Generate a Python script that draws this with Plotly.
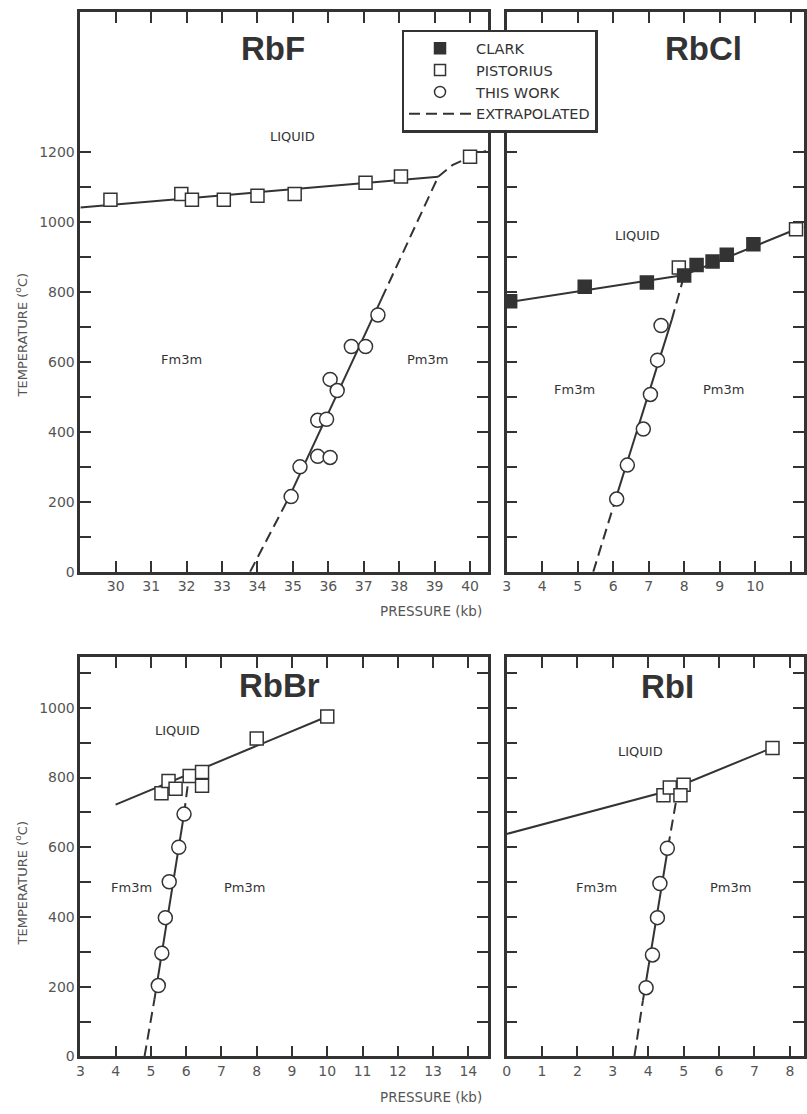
import plotly.graph_objects as go

W, H = 807, 1114
INK = "#333333"
LAB = "#555555"
FONT = "DejaVu Sans"

# ---------------- RbF ----------------
rbf_pist_p = [29.85, 31.85, 32.15, 33.05, 34.0, 35.05, 37.05, 38.05, 40.0]
rbf_pist_t = [1063, 1080, 1063, 1063, 1075, 1080, 1112, 1130, 1186]
rbf_work_p = [34.95, 35.2, 35.7, 36.05, 35.7, 35.95, 36.05, 36.25, 36.65, 37.05, 37.4]
rbf_work_t = [215, 300, 330, 327, 433, 436, 550, 518, 644, 644, 734]
rbf_melt_p = [29.0, 39.1]
rbf_melt_t = [1041, 1129]
rbf_melt_ext_p = [39.1, 39.5, 40.0, 40.45]
rbf_melt_ext_t = [1129, 1162, 1186, 1203]
rbf_tr_p = [34.9, 37.5]
rbf_tr_t = [215, 780]
rbf_tr_ext_lo_p = [33.79, 34.9]
rbf_tr_ext_lo_t = [0, 215]
rbf_tr_ext_hi_p = [37.5, 39.1]
rbf_tr_ext_hi_t = [780, 1129]

# ---------------- RbCl ----------------
rbcl_clark_p = [3.1, 5.2, 6.95, 8.0, 8.35, 8.8, 9.2, 9.95]
rbcl_clark_t = [773, 815, 827, 847, 877, 887, 906, 936]
rbcl_pist_p = [7.85, 11.15]
rbcl_pist_t = [870, 979]
rbcl_work_p = [6.1, 6.4, 6.85, 7.05, 7.25, 7.35]
rbcl_work_t = [208, 305, 408, 507, 605, 704]
rbcl_melt_p = [3.0, 8.0, 11.15, 11.35]
rbcl_melt_t = [770, 848, 979, 986]
rbcl_tr_p = [6.07, 7.65]
rbcl_tr_t = [208, 720]
rbcl_tr_ext_lo_p = [5.44, 6.07]
rbcl_tr_ext_lo_t = [0, 208]
rbcl_tr_ext_hi_p = [7.65, 8.0]
rbcl_tr_ext_hi_t = [720, 847]

# ---------------- RbBr ----------------
rbbr_pist_p = [5.3, 5.5, 5.7, 6.1, 6.45, 6.45, 8.0, 10.0]
rbbr_pist_t = [755, 790, 768, 804, 816, 776, 912, 975]
rbbr_work_p = [5.21, 5.31, 5.41, 5.52, 5.79, 5.94]
rbbr_work_t = [203, 296, 398, 501, 600, 695]
rbbr_melt_p = [4.0, 10.0]
rbbr_melt_t = [722, 975]
rbbr_tr_p = [5.1, 5.94]
rbbr_tr_t = [163, 695]
rbbr_tr_ext_lo_p = [4.82, 5.1]
rbbr_tr_ext_lo_t = [0, 163]
rbbr_tr_ext_hi_p = [5.94, 6.06]
rbbr_tr_ext_hi_t = [695, 790]

# ---------------- RbI ----------------
rbi_pist_p = [4.43, 4.61, 5.0, 4.91, 7.51]
rbi_pist_t = [749, 771, 779, 749, 885]
rbi_work_p = [3.94, 4.12, 4.26, 4.33, 4.54]
rbi_work_t = [197, 291, 398, 496, 597]
rbi_melt_p = [0.0, 4.5, 7.5]
rbi_melt_t = [638, 760, 885]
rbi_tr_p = [3.85, 4.56]
rbi_tr_t = [160, 600]
rbi_tr_ext_lo_p = [3.61, 3.85]
rbi_tr_ext_lo_t = [0, 160]
rbi_tr_ext_hi_p = [4.56, 4.8]
rbi_tr_ext_hi_t = [600, 740]

# tick values
rbf_xticks = list(range(30, 41))
rbcl_xticks = list(range(3, 11))
rbcl_xminor = [11]
rbbr_xticks = list(range(3, 15))
rbi_xticks = list(range(0, 9))
top_yticks = [0, 200, 400, 600, 800, 1000, 1200]
bot_yticks = [0, 200, 400, 600, 800, 1000]
yminor = [100, 300, 500, 700, 900, 1100]

fig = go.Figure()

def px_x(px):
    return px / W

def px_y(py):
    return 1 - py / H

panels = [
    ("x", "y", (77, 488), (12, 576), [29.0, 40.5], [0, 1600], rbf_xticks, [], top_yticks),
    ("x2", "y2", (507, 808.5), (12, 576), [3.0, 11.375], [0, 1600], rbcl_xticks, rbcl_xminor, top_yticks),
    ("x3", "y3", (77, 488), (662, 1064), [3.0, 14.55], [0, 1145], rbbr_xticks, [], bot_yticks),
    ("x4", "y4", (507, 808.5), (662, 1064), [0.0, 8.40], [0, 1145], rbi_xticks, [], bot_yticks),
]

line_style = dict(color=INK, width=2)
dash_style = dict(color=INK, width=2, dash="11px,6px")

def add_line(xa, ya, xs, ys, dashed=False):
    fig.add_trace(go.Scatter(x=xs, y=ys, mode="lines", xaxis=xa, yaxis=ya,
                             line=dash_style if dashed else line_style,
                             showlegend=False, hoverinfo="skip"))

def add_pts(xa, ya, xs, ys, kind):
    if kind == "clark":
        m = dict(symbol="square", size=13, color=INK, line=dict(color=INK, width=1.5))
    elif kind == "pist":
        m = dict(symbol="square", size=13, color="white", line=dict(color=INK, width=1.5))
    else:
        m = dict(symbol="circle", size=14, color="white", line=dict(color=INK, width=1.5))
    fig.add_trace(go.Scatter(x=xs, y=ys, mode="markers", xaxis=xa, yaxis=ya,
                             marker=m, showlegend=False, hoverinfo="skip"))

# RbF
add_line("x", "y", rbf_melt_p, rbf_melt_t)
add_line("x", "y", rbf_melt_ext_p, rbf_melt_ext_t, True)
add_line("x", "y", rbf_tr_p, rbf_tr_t)
add_line("x", "y", rbf_tr_ext_lo_p, rbf_tr_ext_lo_t, True)
add_line("x", "y", rbf_tr_ext_hi_p, rbf_tr_ext_hi_t, True)
add_pts("x", "y", rbf_pist_p, rbf_pist_t, "pist")
add_pts("x", "y", rbf_work_p, rbf_work_t, "work")
# RbCl
add_line("x2", "y2", rbcl_melt_p, rbcl_melt_t)
add_line("x2", "y2", rbcl_tr_p, rbcl_tr_t)
add_line("x2", "y2", rbcl_tr_ext_lo_p, rbcl_tr_ext_lo_t, True)
add_line("x2", "y2", rbcl_tr_ext_hi_p, rbcl_tr_ext_hi_t, True)
add_pts("x2", "y2", rbcl_pist_p, rbcl_pist_t, "pist")
add_pts("x2", "y2", rbcl_clark_p, rbcl_clark_t, "clark")
add_pts("x2", "y2", rbcl_work_p, rbcl_work_t, "work")
# RbBr
add_line("x3", "y3", rbbr_melt_p, rbbr_melt_t)
add_line("x3", "y3", rbbr_tr_p, rbbr_tr_t)
add_line("x3", "y3", rbbr_tr_ext_lo_p, rbbr_tr_ext_lo_t, True)
add_line("x3", "y3", rbbr_tr_ext_hi_p, rbbr_tr_ext_hi_t, True)
add_pts("x3", "y3", rbbr_pist_p, rbbr_pist_t, "pist")
add_pts("x3", "y3", rbbr_work_p, rbbr_work_t, "work")
# RbI
add_line("x4", "y4", rbi_melt_p, rbi_melt_t)
add_line("x4", "y4", rbi_tr_p, rbi_tr_t)
add_line("x4", "y4", rbi_tr_ext_lo_p, rbi_tr_ext_lo_t, True)
add_line("x4", "y4", rbi_tr_ext_hi_p, rbi_tr_ext_hi_t, True)
add_pts("x4", "y4", rbi_pist_p, rbi_pist_t, "pist")
add_pts("x4", "y4", rbi_work_p, rbi_work_t, "work")

# legend entries
fig.add_trace(go.Scatter(x=[None], y=[None], mode="markers", name="CLARK",
                         marker=dict(symbol="square", size=11, color=INK, line=dict(color=INK, width=1.5))))
fig.add_trace(go.Scatter(x=[None], y=[None], mode="markers", name="PISTORIUS",
                         marker=dict(symbol="square", size=11, color="white", line=dict(color=INK, width=1.5))))
fig.add_trace(go.Scatter(x=[None], y=[None], mode="markers", name="THIS WORK",
                         marker=dict(symbol="circle", size=11, color="white", line=dict(color=INK, width=1.5))))
fig.add_trace(go.Scatter(x=[None], y=[None], mode="lines", name="EXTRAPOLATED",
                         line=dash_style))

axis_common = dict(showline=True, linecolor=INK, linewidth=2.5, mirror="ticks",
                   ticks="inside", ticklen=11, tickwidth=1.5, tickcolor=INK,
                   showgrid=False, zeroline=False,
                   tickfont=dict(family=FONT, size=14, color=LAB))

layout = {}
for i, (xa, ya, xd, yd, xr, yr, xt, xm, yt) in enumerate(panels):
    xkey = "xaxis" if xa == "x" else "xaxis" + xa[1:]
    ykey = "yaxis" if ya == "y" else "yaxis" + ya[1:]
    layout[xkey] = dict(axis_common, domain=[px_x(xd[0]), min(1.0, px_x(xd[1]))], range=xr,
                        anchor=ya, tickvals=xt,
                        minor=dict(tickvals=xm, ticks="inside", ticklen=11,
                                   tickwidth=1.5, tickcolor=INK, showgrid=False))
    show_lab = i in (0, 2)
    layout[ykey] = dict(axis_common, domain=[px_y(yd[1]), px_y(yd[0])], range=yr,
                        anchor=xa, tickvals=yt, showticklabels=show_lab,
                        minor=dict(tickvals=yminor, ticks="inside", ticklen=11,
                                   tickwidth=1.5, tickcolor=INK, showgrid=False))

fig.update_layout(**layout)

ann = []
def title(text, xa, ya, x, y):
    ann.append(dict(text=f"<b>{text}</b>", x=x, y=y, xref=xa, yref=ya, showarrow=False,
                    xanchor="center", yanchor="middle",
                    font=dict(family="Liberation Sans", size=33, color=INK)))
def region(text, xa, ya, x, y):
    ann.append(dict(text=text, x=x, y=y, xref=xa, yref=ya, showarrow=False,
                    xanchor="center", yanchor="middle",
                    font=dict(family=FONT, size=13, color=INK)))

title("RbF", "x", "y", 34.45, 1495)
title("RbCl", "x2", "y2", 8.55, 1495)
title("RbBr", "x3", "y3", 8.65, 1065)
title("RbI", "x4", "y4", 4.55, 1062)

region("LIQUID", "x", "y", 35.0, 1245)
region("Fm3m", "x", "y", 31.85, 607)
region("Pm3m", "x", "y", 38.8, 607)
region("LIQUID", "x2", "y2", 6.7, 961)
region("Fm3m", "x2", "y2", 4.9, 520)
region("Pm3m", "x2", "y2", 9.1, 520)
region("LIQUID", "x3", "y3", 5.75, 934)
region("Fm3m", "x3", "y3", 4.45, 484)
region("Pm3m", "x3", "y3", 7.65, 484)
region("LIQUID", "x4", "y4", 3.77, 874)
region("Fm3m", "x4", "y4", 2.55, 484)
region("Pm3m", "x4", "y4", 6.33, 484)

for ytop in (338, 890):
    ann.append(dict(text="TEMPERATURE (<sup>o</sup>C)", x=px_x(17), y=px_y(ytop),
                    xref="paper", yref="paper", showarrow=False, textangle=-90,
                    xanchor="center", yanchor="middle",
                    font=dict(family=FONT, size=13, color=LAB)))
for ylab in (615, 1105):
    ann.append(dict(text="PRESSURE (kb)", x=px_x(484), y=px_y(ylab),
                    xref="paper", yref="paper", showarrow=False,
                    xanchor="right", yanchor="middle",
                    font=dict(family=FONT, size=13.5, color=LAB)))

fig.update_layout(
    width=W, height=H, margin=dict(l=0, r=0, t=0, b=0),
    paper_bgcolor="white", plot_bgcolor="white",
    annotations=ann,
    showlegend=True,
    legend=dict(x=px_x(401), y=px_y(30), xanchor="left", yanchor="top",
                bgcolor="white", bordercolor=INK, borderwidth=2.5,
                font=dict(family=FONT, size=14.5, color=INK),
                itemwidth=62, tracegroupgap=0, entrywidth=150),
)

fig.write_html("out.html", config={"displayModeBar": False},
               post_script="document.body.style.margin='0px';")
